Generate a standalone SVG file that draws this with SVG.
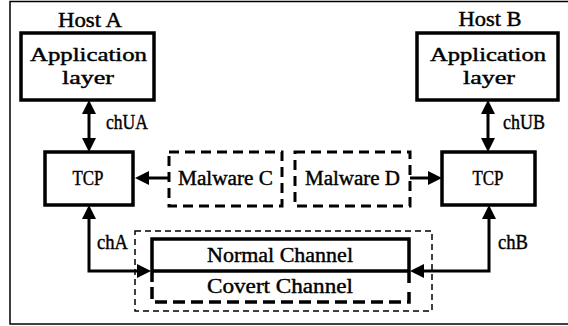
<svg xmlns="http://www.w3.org/2000/svg" width="568" height="326" viewBox="0 0 568 326">
<style>
  text { font-family: "Liberation Serif", "Times New Roman", serif; font-size: 20px; fill: #000; stroke: #000; stroke-width: 0.4; text-anchor: middle; }
  .app { font-size: 18px; }
  .box { fill: #fff; stroke: #000; stroke-width: 3.5; }
  .mal { fill: none; stroke: #000; stroke-width: 3; stroke-dasharray: 10 6; }
  .conn { fill: none; stroke: #000; stroke-width: 3; }
</style>
<defs>
  <marker id="ah" viewBox="0 0 14 14" markerWidth="14" markerHeight="14" markerUnits="userSpaceOnUse" refX="0" refY="7" orient="auto-start-reverse">
    <path d="M0,0 L14,7 L0,14 z" fill="#000"/>
  </marker>
</defs>
<rect x="10" y="1.5" width="562" height="322.5" fill="#fff" stroke="#000" stroke-width="1.5"/>

<g id="hostA-label"><text x="90" y="27" textLength="64" lengthAdjust="spacingAndGlyphs">Host A</text></g>
<g id="hostB-label"><text x="490" y="26" textLength="63" lengthAdjust="spacingAndGlyphs">Host B</text></g>

<g id="appA">
  <rect class="box" x="21" y="33" width="133" height="67"/>
  <text class="app" x="88.5" y="61" textLength="117" lengthAdjust="spacingAndGlyphs">Application</text>
  <text class="app" x="88" y="84" textLength="52" lengthAdjust="spacingAndGlyphs">layer</text>
</g>
<g id="appB">
  <rect class="box" x="417" y="33" width="141" height="67"/>
  <text class="app" x="488" y="61" textLength="116" lengthAdjust="spacingAndGlyphs">Application</text>
  <text class="app" x="489" y="84" textLength="52" lengthAdjust="spacingAndGlyphs">layer</text>
</g>
<g id="tcpA">
  <rect class="box" x="45" y="152" width="88" height="53"/>
  <text x="88" y="185" textLength="31" lengthAdjust="spacingAndGlyphs">TCP</text>
</g>
<g id="tcpB">
  <rect class="box" x="442" y="152" width="93" height="53"/>
  <text x="488" y="185" textLength="31" lengthAdjust="spacingAndGlyphs">TCP</text>
</g>
<g id="malwareC">
  <rect class="mal" x="169" y="152" width="113" height="54"/>
  <text x="225.5" y="185" textLength="95" lengthAdjust="spacingAndGlyphs">Malware C</text>
</g>
<g id="malwareD">
  <rect class="mal" x="295" y="152" width="115" height="54"/>
  <text x="352.5" y="185" textLength="95" lengthAdjust="spacingAndGlyphs">Malware D</text>
</g>
<g id="channels">
  <rect x="135" y="231" width="297" height="80" fill="none" stroke="#000" stroke-width="1.5" stroke-dasharray="6 4"/>
  <path d="M152,282 L152,239 L409,239 L409,283" fill="none" stroke="#000" stroke-width="3.5"/>
  <line x1="152" y1="271" x2="409" y2="271" stroke="#000" stroke-width="3.5"/>
  <path d="M152,287 L152,302 L409,302 L409,287" fill="none" stroke="#000" stroke-width="3.5" stroke-dasharray="12 6"/>
  <text x="280" y="262" textLength="146" lengthAdjust="spacingAndGlyphs">Normal Channel</text>
  <text x="280" y="293" textLength="146" lengthAdjust="spacingAndGlyphs">Covert Channel</text>
</g>

<g id="connectors">
  <line class="conn" x1="89" y1="114" x2="89" y2="138" marker-start="url(#ah)" marker-end="url(#ah)"/>
  <line class="conn" x1="488" y1="114" x2="488" y2="138" marker-start="url(#ah)" marker-end="url(#ah)"/>
  <line class="conn" x1="169" y1="178" x2="149" y2="178" marker-end="url(#ah)"/>
  <line class="conn" x1="410" y1="178" x2="428" y2="178" marker-end="url(#ah)"/>
  <polyline class="conn" points="137,271 89,271 89,219" marker-start="url(#ah)" marker-end="url(#ah)"/>
  <polyline class="conn" points="424,271 489,271 489,219" marker-start="url(#ah)" marker-end="url(#ah)"/>
  <text x="127" y="129" textLength="42" lengthAdjust="spacingAndGlyphs">chUA</text>
  <text x="524" y="129" textLength="42" lengthAdjust="spacingAndGlyphs">chUB</text>
  <text x="112.5" y="249" textLength="31" lengthAdjust="spacingAndGlyphs">chA</text>
  <text x="513" y="249" textLength="30" lengthAdjust="spacingAndGlyphs">chB</text>
</g>
</svg>
